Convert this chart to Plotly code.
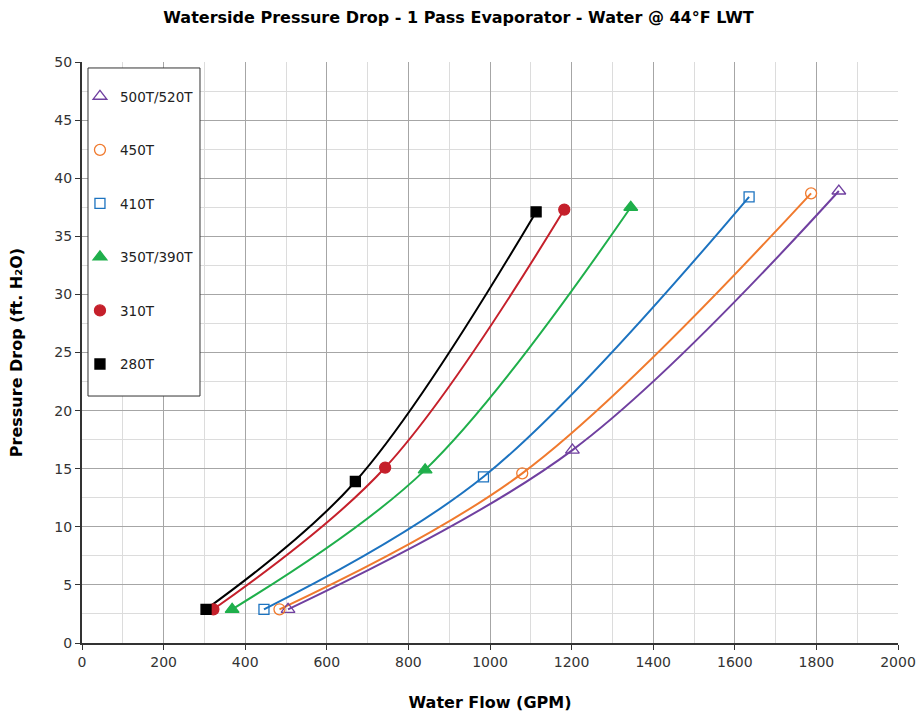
import plotly.graph_objects as go

names = ["280T", "310T", "350T/390T", "410T", "450T", "500T/520T"]
flow = {
    "280T": [304, 670, 1113],
    "310T": [322, 743, 1182],
    "350T/390T": [368, 841, 1345],
    "410T": [446, 984, 1635],
    "450T": [484, 1079, 1787],
    "500T/520T": [505, 1202, 1855],
}
drop = {
    "280T": [2.9, 13.9, 37.1],
    "310T": [2.9, 15.1, 37.3],
    "350T/390T": [2.9, 14.9, 37.5],
    "410T": [2.9, 14.3, 38.4],
    "450T": [2.9, 14.6, 38.7],
    "500T/520T": [2.9, 16.6, 38.9],
}
colors = {
    "280T": "#000000",
    "310T": "#C5202B",
    "350T/390T": "#1FAF4B",
    "410T": "#1C73C0",
    "450T": "#F07A2E",
    "500T/520T": "#7040A0",
}
symbols = {
    "280T": "square",
    "310T": "circle",
    "350T/390T": "triangle-up",
    "410T": "square-open",
    "450T": "circle-open",
    "500T/520T": "triangle-up-open",
}
sizes = {"280T": 10, "310T": 11, "350T/390T": 12, "410T": 10, "450T": 11, "500T/520T": 12}

fig = go.Figure()
for n in names:
    fig.add_trace(go.Scatter(x=flow[n], y=drop[n], mode="lines", line=dict(color=colors[n], width=2, shape="spline", smoothing=1.0),
                             showlegend=False, hoverinfo="skip"))
for n in reversed(names):
    fig.add_trace(go.Scatter(x=flow[n], y=drop[n], mode="markers", name=n, legendgroup=n,
                             marker=dict(symbol=symbols[n], color=colors[n], size=sizes[n], line=dict(color=colors[n], width=1.3))))

fnt = "DejaVu Sans, Verdana, sans-serif"
fig.update_layout(
    width=917, height=713,
    margin=dict(l=82, r=19, t=62, b=70),
    paper_bgcolor="white", plot_bgcolor="white",
    font=dict(family=fnt, size=14, color="#333"),
    title=dict(text="<b>Waterside Pressure Drop - 1 Pass Evaporator - Water @ 44°F LWT</b>", x=0.5, xanchor="center", y=0.976, yanchor="middle",
               font=dict(family=fnt, size=16, color="#000")),
    legend=dict(x=-0.0025, y=0.9673, xanchor="left", yanchor="top", bgcolor="rgba(0,0,0,0)", borderwidth=0,
                traceorder="grouped", tracegroupgap=33, font=dict(family=fnt, size=13.5, color="#222"), itemwidth=30),
    showlegend=True,
    shapes=[dict(type="rect", xref="paper", yref="paper", x0=0.00735, x1=0.1446, y0=0.4251, y1=0.9897,
                 fillcolor="white", line=dict(color="#333", width=1), layer="above")],
)
fig.update_xaxes(range=[0, 2000], dtick=200, tick0=0, showgrid=True, gridcolor="#A6A6A6", gridwidth=1,
                 minor=dict(dtick=100, showgrid=True, gridcolor="#DCDCDC", gridwidth=1),
                 showline=True, linecolor="#333", linewidth=2, ticks="outside", ticklen=5, tickcolor="#333",
                 zeroline=False, tickfont=dict(size=14), automargin=False,
                 title=dict(text="<b>Water Flow (GPM)</b>", font=dict(size=16, color="#000"), standoff=28))
fig.update_yaxes(range=[0, 50], dtick=5, tick0=0, showgrid=True, gridcolor="#A6A6A6", gridwidth=1,
                 minor=dict(dtick=2.5, showgrid=True, gridcolor="#DCDCDC", gridwidth=1),
                 showline=True, linecolor="#333", linewidth=2, ticks="outside", ticklen=5, tickcolor="#333",
                 zeroline=False, tickfont=dict(size=14), automargin=False,
                 title=dict(text="<b>Pressure Drop (ft. H₂O)</b>", font=dict(size=16, color="#000"), standoff=28))

fig.write_html("out.html", config={"displayModeBar": False},
               post_script="document.body.style.margin='0';document.body.style.overflow='hidden';")
